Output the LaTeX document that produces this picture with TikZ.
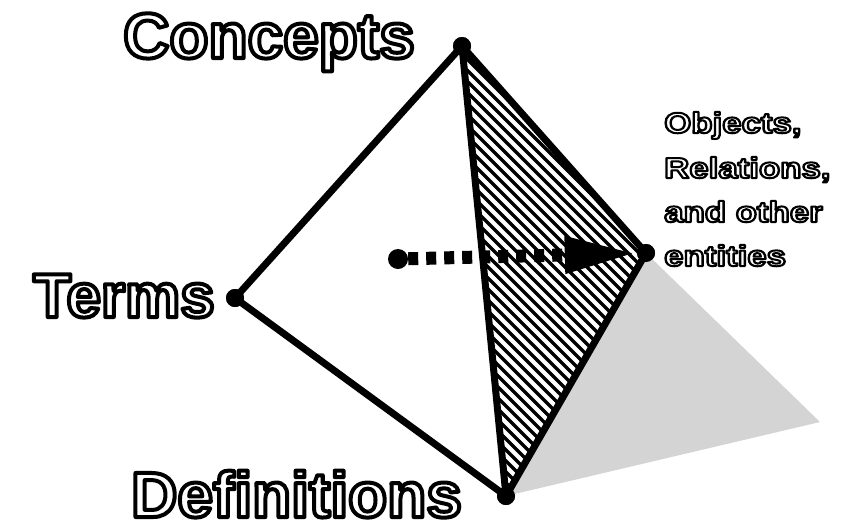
\documentclass[tikz,border=0pt]{standalone}
\usepackage{fontspec}
\setmainfont{Liberation Sans}
\usetikzlibrary{arrows.meta}
\newcommand\hollowtext[2]{\textcolor{white}{\special{pdf:literal direct 0 G #1 w 1 j 2 Tr}#2\special{pdf:literal direct 0 Tr}}}
\begin{document}
\begin{tikzpicture}[x=1pt,y=-1pt,
  vertex/.style={circle,fill=black,inner sep=0pt,minimum size=18pt},
  edge/.style={line width=7pt,line cap=round,line join=round},
  hatchline/.style={line width=3.5pt},
  shadowface/.style={fill=black!17},
  biglabel/.style={anchor=base west,inner sep=0pt,font=\bfseries\fontsize{64}{64}\selectfont},
  smalllabel/.style={anchor=base west,inner sep=0pt,font=\bfseries\fontsize{29}{29}\selectfont},
  arrowshaft/.style={line width=13pt,dash pattern=on 10pt off 8pt,-{Triangle[length=72pt,width=34pt]}}
]
\useasboundingbox (0,0) rectangle (842,528);

% vertices
\node[vertex] (C) at (462,46) {};
\node[vertex] (T) at (235,298) {};
\node[vertex] (D) at (506,496) {};
\node[vertex] (O) at (646,253) {};
\node[vertex,minimum size=20pt] (S) at (398,259) {};
\coordinate (X) at (820,422);

% shadow
\fill[shadowface] (O.center) -- (X) -- (D.center) -- cycle;

% hatched face
\begin{scope}
  \clip (C.center) -- (O.center) -- (D.center) -- cycle;
  \foreach \k in {0,...,80} \draw[hatchline] ({-120+11*\k},0) -- ++(600,600);
\end{scope}

% edges
\draw[edge] (T.center) -- (C.center) -- (D.center) -- (T.center);
\draw[edge] (C.center) -- (O.center) -- (D.center);

% redraw dots on top
\node[vertex] at (C) {};
\node[vertex] at (T) {};
\node[vertex] at (D) {};
\node[vertex] at (O) {};

% dashed arrow
\draw[arrowshaft] (S) -- (O);

% big labels (hollow text)
\node[biglabel] (lblC) at (123,58) {\hollowtext{4}{Concepts}};
\node[biglabel,font=\bfseries\fontsize{62}{62}\selectfont] (lblT) at (33,317) {\hollowtext{4}{Terms}};
\node[biglabel,font=\bfseries\fontsize{64}{64}\selectfont] (lblD) at (131,517) {\hollowtext{4}{Definitions}};

% small labels
\node[smalllabel] (o1) at (664,133) {\scalebox{1.2}[1]{\hollowtext{2}{Objects,}}};
\node[smalllabel] (o2) at (664,178) {\scalebox{1.2}[1]{\hollowtext{2}{Relations,}}};
\node[smalllabel] (o3) at (664,222) {\scalebox{1.2}[1]{\hollowtext{2}{and other}}};
\node[smalllabel] (o4) at (664,266) {\scalebox{1.2}[1]{\hollowtext{2}{entities}}};
\end{tikzpicture}
\end{document}
